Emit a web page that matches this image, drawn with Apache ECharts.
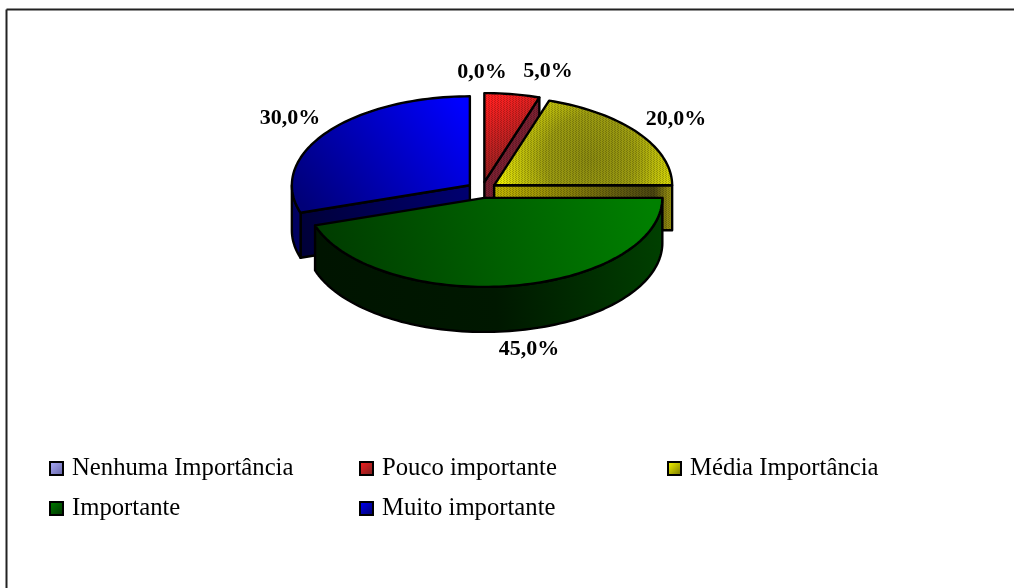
<!DOCTYPE html>
<html>
<head>
<meta charset="utf-8">
<style>html,body{margin:0;padding:0;background:#fff}#chart{width:1014px;height:588px}</style>
<script src="https://cdn.jsdelivr.net/npm/echarts@6/dist/echarts.min.js"></script>
</head>
<body>
<div id="chart"></div>
<script>
var categories = ["Nenhuma Importância", "Pouco importante", "Média Importância", "Importante", "Muito importante"];
var values = [0, 5, 20, 45, 30];

// layout of the pie
var cx = 482, cy = 190, rx = 178, ry = 89, depth = 45, explodeX = 15, explodeY = 8;
var labelPos = [[482, 72], [548, 71], [676, 119], [529, 349], [290, 118]];
var drawOrder = [0, 2, 3, 4, 1]; // z of each series, blue goes behind the others

function stops(list) {
  return list.map(function (s) { return { offset: s[0], color: s[1] }; });
}
function grad(x, y, x2, y2, list) {
  return { type: "linear", x: x, y: y, x2: x2, y2: y2, global: true, colorStops: stops(list) };
}
function radial(x, y, r, list) {
  return { type: "radial", x: x, y: y, r: r, global: true, colorStops: stops(list) };
}
function box(c1, c2) {
  return { type: "linear", x: 0, y: 0, x2: 1, y2: 1, colorStops: stops([[0, c1], [1, c2]]) };
}

var topFill = [
  "#9999ff",
  grad(490, 100, 530, 170, [[0, "#ff2020"], [1, "#802020"]]),
  radial(590, 160, 100, [[0, "#8a8a10"], [0.45, "#9a9a10"], [0.8, "#d0d008"], [1, "#ffff00"]]),
  grad(650, 200, 320, 275, [[0, "#008000"], [1, "#003a00"]]),
  grad(460, 100, 310, 215, [[0, "#0000ff"], [1, "#000078"]])
];
var rimFill = [
  "#666699",
  "#6b1a1a",
  "#5a5510",
  grad(663, 240, 320, 270, [[0, "#004000"], [0.5, "#001800"], [1, "#001400"]]),
  "#000060"
];
var wallFill = [
  "#666699",
  "#7a2030",
  grad(494, 210, 672, 210, [[0, "#c0b400"], [0.75, "#5a5510"], [0.9, "#4a4510"], [1, "#a09a10"]]),
  "#002000",
  grad(470, 200, 300, 235, [[0, "#000070"], [1, "#000038"]])
];
var hatched = [true, true, true, false, false];
var legendFill = [
  box("#b0b0ff", "#6060a0"),
  box("#ff2020", "#702020"),
  box("#ffff00", "#707000"),
  box("#008000", "#003000"),
  box("#0000ff", "#000060")
];

// fine dither of the original bitmap
var dither = document.createElement("canvas");
dither.width = 3;
dither.height = 2;
var dctx = dither.getContext("2d");
dctx.fillStyle = "rgba(0,0,0,0.22)";
dctx.fillRect(0, 0, 1, 1);
dctx.fillRect(2, 1, 1, 1);

function pt(c, angle, down) {
  return [c[0] + rx * Math.sin(angle), c[1] - ry * Math.cos(angle) + (down || 0)];
}
function arc(c, a0, a1, down) {
  var pts = [];
  var n = Math.max(2, Math.ceil(Math.abs(a1 - a0) / 0.03));
  for (var i = 0; i <= n; i++) pts.push(pt(c, a0 + (a1 - a0) * i / n, down));
  return pts;
}
function poly(points, fill, withDither, z2) {
  var out = [{
    type: "polygon", z2: z2, shape: { points: points },
    style: { fill: fill, stroke: "#000", lineWidth: 2.4, lineJoin: "round" }
  }];
  if (withDither) {
    out.push({
      type: "polygon", z2: z2 + 1, shape: { points: points },
      style: { fill: { image: dither, repeat: "repeat" }, stroke: null }
    });
  }
  return out;
}

function sliceItem(i) {
  var total = values.reduce(function (a, b) { return a + b; }, 0);
  var before = 0;
  for (var k = 0; k < i; k++) before += values[k];
  var a0 = before / total * Math.PI * 2;
  var a1 = (before + values[i]) / total * Math.PI * 2;
  var mid = (a0 + a1) / 2;
  var c = [cx + explodeX * Math.sin(mid), cy - explodeY * Math.cos(mid)];
  var kids = [];
  var text = values[i].toFixed(1).replace(".", ",") + "%";
  if (values[i] > 0) {
    if (Math.sin(a0) < -0.001) {
      var p0 = pt(c, a0);
      kids = kids.concat(poly([c, p0, [p0[0], p0[1] + depth], [c[0], c[1] + depth]], wallFill[i], hatched[i], 1));
    }
    if (Math.sin(a1) > 0.001) {
      var p1 = pt(c, a1);
      kids = kids.concat(poly([c, p1, [p1[0], p1[1] + depth], [c[0], c[1] + depth]], wallFill[i], hatched[i], 1));
    }
    var r0 = Math.max(a0, Math.PI / 2), r1 = Math.min(a1, Math.PI * 1.5);
    if (r1 > r0) {
      kids = kids.concat(poly(arc(c, r0, r1).concat(arc(c, r1, r0, depth)), rimFill[i], hatched[i], 3));
    }
    kids = kids.concat(poly([c].concat(arc(c, a0, a1)), topFill[i], hatched[i], 5));
  }
  kids.push({
    type: "text", z2: 10,
    x: labelPos[i][0], y: labelPos[i][1],
    style: { text: text, align: "center", verticalAlign: "middle", fill: "#000",
      font: "bold 22px 'Liberation Serif'" }
  });
  return { type: "group", children: kids };
}

var series = categories.map(function (name, i) {
  return {
    type: "custom",
    name: name,
    coordinateSystem: "none",
    z: 2 + drawOrder[i],
    silent: true,
    animation: false,
    itemStyle: { color: legendFill[i] },
    data: [values[i]],
    renderItem: function () { return sliceItem(i); }
  };
});

function legendColumn(left, names) {
  return {
    left: left,
    top: 456,
    orient: "vertical",
    padding: 0,
    itemGap: 15,
    itemWidth: 13,
    itemHeight: 13,
    icon: "rect",
    selectedMode: false,
    textStyle: { fontFamily: "Liberation Serif", fontSize: 24.7, color: "#000", padding: [0, 0, 0, 4] },
    data: names.map(function (idx) {
      return { name: categories[idx], itemStyle: { color: legendFill[idx], borderColor: "#000", borderWidth: 2 } };
    })
  };
}

var myChart = echarts.init(document.getElementById("chart"), null, { renderer: "canvas" });
var option = {
  backgroundColor: "#fff",
  animation: false,
  legend: [legendColumn(49, [0, 3]), legendColumn(359, [1, 4]), legendColumn(667, [2])],
  graphic: [
    { type: "line", shape: { x1: 6.5, y1: 9.5, x2: 1014, y2: 9.5 }, style: { stroke: "#222", lineWidth: 2 } },
    { type: "line", shape: { x1: 6.5, y1: 9.5, x2: 6.5, y2: 588 }, style: { stroke: "#222", lineWidth: 2 } }
  ],
  series: series
};
myChart.setOption(option);
</script>
</body>
</html>
